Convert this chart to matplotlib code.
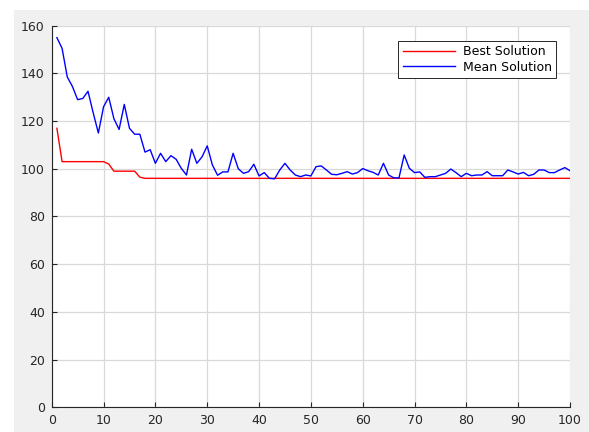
import numpy as np
import matplotlib
matplotlib.use('Agg')
import matplotlib.pyplot as plt
from matplotlib.patches import Rectangle

# iterations 1..100
iters = np.arange(1, 101)

best_sol = [117, 103, 103, 103, 103, 103, 103, 103, 103, 103,
            102, 99, 99, 99, 99, 99, 96.5] + [96] * 83

mean_sol = [155, 150.5, 138.5, 134.5, 129, 129.5, 132.5, 123.5, 115, 126,
            130, 121, 116.5, 127, 117, 114.5, 114.5, 107, 108, 102.3,
            106.5, 103, 105.5, 104, 100.2, 97.4, 108.2, 102.3, 105, 109.6,
            101.6, 97.3, 98.7, 98.7, 106.5, 100, 98.1, 98.8, 101.9, 97,
            98.4, 96, 95.8, 99.5, 102.3, 99.5, 97.4, 96.7, 97.4, 97,
            100.9, 101.2, 99.5, 97.7, 97.5, 98.1, 98.8, 97.8, 98.4, 100.1,
            99.2, 98.5, 97.4, 102.3, 97.4, 96.2, 96.2, 105.8, 100.2, 98.4,
            98.7, 96.4, 96.7, 96.7, 97.4, 98.1, 99.9, 98.4, 96.7, 98.1,
            97.1, 97.4, 97.4, 98.8, 97.1, 97.1, 97.1, 99.5, 98.7, 97.8,
            98.5, 97.1, 97.7, 99.5, 99.5, 98.4, 98.4, 99.5, 100.5, 99.2]

xticks = np.arange(0, 101, 10)
yticks = np.arange(0, 161, 20)

txt_col = '#262626'

fig = plt.figure(figsize=(5.89, 4.32), dpi=100, facecolor='white')
# light gray figure panel like the MATLAB window
fig.patches.append(Rectangle((14 / 589, 0), 1, (432 - 10) / 432,
                             transform=fig.transFigure, facecolor='#f0f0f0',
                             edgecolor='none', zorder=-10))

ax = fig.add_axes([0.0878, 0.0572, 0.880, 0.8833])
ax.set_facecolor('white')

ax.plot(iters, best_sol, color='red', lw=1.0, label='Best Solution')
ax.plot(iters, mean_sol, color='blue', lw=1.0, label='Mean Solution')

ax.set_xlim(0, 100)
ax.set_ylim(0, 160)
ax.set_xticks(xticks)
ax.set_yticks(yticks)
ax.grid(True, color='#d9d9d9', lw=0.9)
ax.set_axisbelow(True)

for s in ['top', 'right']:
    ax.spines[s].set_visible(False)
for s in ['left', 'bottom']:
    ax.spines[s].set_color(txt_col)
    ax.spines[s].set_linewidth(0.8)

ax.tick_params(direction='in', length=3.5, width=0.8, color=txt_col,
               labelcolor=txt_col, labelsize=9, pad=5)

leg = ax.legend(loc='upper right', bbox_to_anchor=(0.973, 0.960),
                borderaxespad=0, fancybox=False, fontsize=9,
                handlelength=4.2, handletextpad=0.6, labelspacing=0.2,
                borderpad=0.35, framealpha=1)
leg.get_frame().set_edgecolor(txt_col)
leg.get_frame().set_linewidth(0.7)
for t in leg.get_texts():
    t.set_color('black')

plt.savefig('out.png', dpi=100, facecolor=fig.get_facecolor())
